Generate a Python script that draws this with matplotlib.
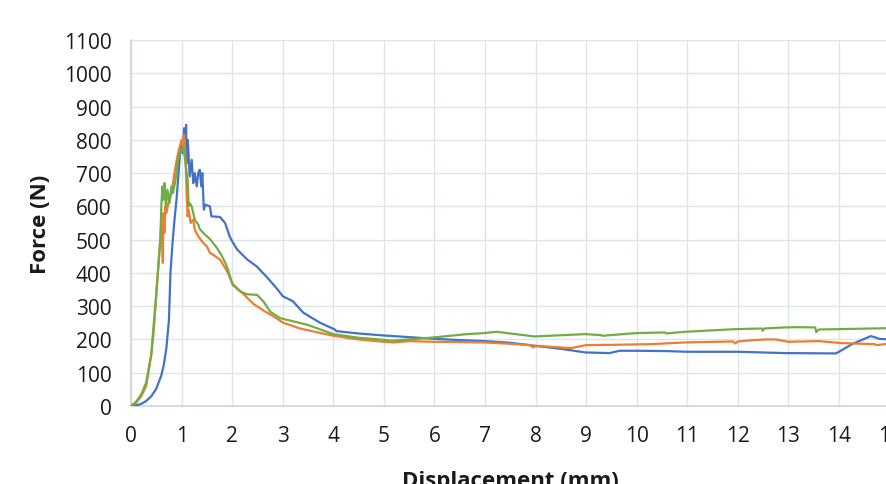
"""
Force vs displacement curves for three specimens (Excel style chart).
"""
import matplotlib
matplotlib.use('Agg')
import matplotlib.pyplot as plt

# specimen 1 (blue)
disp_1 = [0, 0.1, 0.2, 0.3, 0.4, 0.5, 0.6, 0.65, 0.7, 0.75, 0.78, 0.82, 0.86, 0.9,
          0.95, 0.97, 1.0, 1.02, 1.05, 1.07, 1.09, 1.1, 1.12, 1.13, 1.16, 1.2, 1.23,
          1.26, 1.3, 1.33, 1.36, 1.39, 1.41, 1.44, 1.47, 1.56, 1.59, 1.76, 1.86,
          1.95, 2.0, 2.1, 2.3, 2.49, 2.7, 2.9, 3.0, 3.2, 3.41, 3.74, 4.03, 4.06,
          4.5, 4.99, 5.5, 5.98, 6.5, 7.0, 7.5, 7.98, 8.54, 8.98, 9.46, 9.66, 10.0,
          10.6, 11.0, 12.0, 12.93, 13.94, 14.01, 14.27, 14.63, 14.7, 14.79, 15.0]
force_1 = [0, 2, 6, 15, 29, 52, 92, 125, 175, 258, 400, 487, 560, 620,
           720, 760, 790, 760, 835, 780, 845, 730, 800, 780, 690, 740, 670,
           700, 660, 700, 710, 660, 700, 590, 605, 600, 570, 568, 550,
           510, 495, 470, 440, 419, 385, 350, 330, 315, 280, 250, 230, 225,
           218, 212, 207, 202, 198, 195, 190, 181, 171, 161, 159, 166, 166,
           165, 163, 163, 159, 158, 164, 187, 210, 207, 202, 200]

# specimen 2 (orange)
disp_2 = [0, 0.1, 0.2, 0.3, 0.4, 0.45, 0.5, 0.55, 0.58, 0.6, 0.63, 0.64, 0.66,
          0.68, 0.7, 0.74, 0.8, 0.87, 0.93, 1.0, 1.03, 1.05, 1.08, 1.1, 1.12,
          1.14, 1.18, 1.23, 1.26, 1.33, 1.43, 1.5, 1.56, 1.62, 1.76, 1.9, 2.01,
          2.22, 2.42, 2.62, 2.81, 3.0, 3.34, 4.0, 4.5, 4.99, 5.2, 5.5, 5.98,
          6.97, 7.5, 7.9, 7.95, 8.0, 8.7, 9.0, 9.6, 10.3, 10.95, 11.9, 11.95,
          12.0, 12.3, 12.55, 12.75, 13.0, 13.6, 14.05, 14.7, 14.75, 15.0]
force_2 = [0, 13, 34, 71, 154, 227, 331, 446, 500, 560, 430, 580, 520,
           600, 580, 610, 640, 710, 760, 800, 780, 815, 740, 640, 570,
           590, 550, 560, 530, 510, 490, 480, 460, 455, 440, 405, 367,
           337, 307, 287, 270, 251, 233, 211, 200, 193, 191, 195, 193,
           191, 187, 183, 176, 181, 174, 183, 184, 186, 191, 194, 188,
           194, 198, 200, 200, 193, 195, 189, 186, 183, 188]

# specimen 3 (green)
disp_3 = [0, 0.1, 0.2, 0.3, 0.4, 0.5, 0.55, 0.58, 0.6, 0.62, 0.64, 0.66, 0.69,
          0.72, 0.76, 0.8, 0.83, 0.87, 0.9, 0.93, 0.96, 1.0, 1.03, 1.07, 1.1,
          1.12, 1.14, 1.16, 1.2, 1.26, 1.33, 1.36, 1.43, 1.56, 1.7, 1.8, 1.89,
          2.01, 2.16, 2.29, 2.49, 2.62, 2.75, 2.95, 3.22, 3.49, 4.0, 4.5, 4.99,
          5.15, 5.5, 5.98, 6.64, 6.97, 7.23, 7.98, 8.98, 9.3, 9.32, 9.97, 10.56,
          10.58, 10.95, 11.95, 12.47, 12.49, 12.52, 12.9, 13.2, 13.53, 13.55,
          13.6, 14.0, 15.0]
force_3 = [0, 10, 29, 60, 154, 340, 435, 500, 600, 660, 620, 670, 600,
           650, 610, 660, 640, 670, 700, 740, 760, 770, 780, 740, 700,
           680, 600, 610, 600, 560, 545, 532, 520, 502, 475, 450, 422,
           364, 344, 336, 334, 314, 284, 264, 254, 244, 216, 205, 199,
           196, 200, 206, 216, 219, 223, 209, 216, 213, 211, 219, 221,
           218, 223, 231, 233, 226, 233, 236, 237, 236, 222, 230, 231, 234]

x_ticks = list(range(0, 16))
y_ticks = list(range(0, 1101, 100))

blue = '#4472C4'
orange = '#ED7D31'
green = '#70AD47'
grid_col = '#dfe3ea'

plt.rcParams['font.family'] = ['Open Sans', 'DejaVu Sans']

fig = plt.figure(figsize=(8.86, 4.85), dpi=100)
# plot area runs past the right edge of the picture, as in the reference
ax = fig.add_axes([131 / 886, 1 - 407 / 485, (889.6 - 131) / 886, 366 / 485])

ax.plot(disp_1, force_1, color=blue, lw=1.6, zorder=3)
ax.plot(disp_2, force_2, color=orange, lw=1.6, zorder=4)
ax.plot(disp_3, force_3, color=green, lw=1.6, zorder=5)

ax.set_xlim(0, 15)
ax.set_ylim(0, 1100)
ax.set_xticks(x_ticks)
ax.set_yticks(y_ticks)
ax.grid(True, color=grid_col, lw=1.0, zorder=0)
ax.set_axisbelow(True)

for side in ['top', 'right']:
    ax.spines[side].set_visible(False)
for side in ['left', 'bottom']:
    ax.spines[side].set_color('#cdd3de')
    ax.spines[side].set_linewidth(1.2)

ax.tick_params(axis='both', length=0, labelsize=15, colors='#1a1a1a')
ax.tick_params(axis='x', pad=14)
ax.tick_params(axis='y', pad=14)

ax.set_xlabel('Displacement (mm)', fontsize=16, fontweight='bold', color='#1a1a1a')
ax.set_ylabel('Force (N)', fontsize=16, fontweight='bold', color='#1a1a1a')
ax.xaxis.set_label_coords(0.5, -0.174)
ax.yaxis.set_label_coords(-0.105, 0.5)

fig.savefig('out.png', dpi=100)
